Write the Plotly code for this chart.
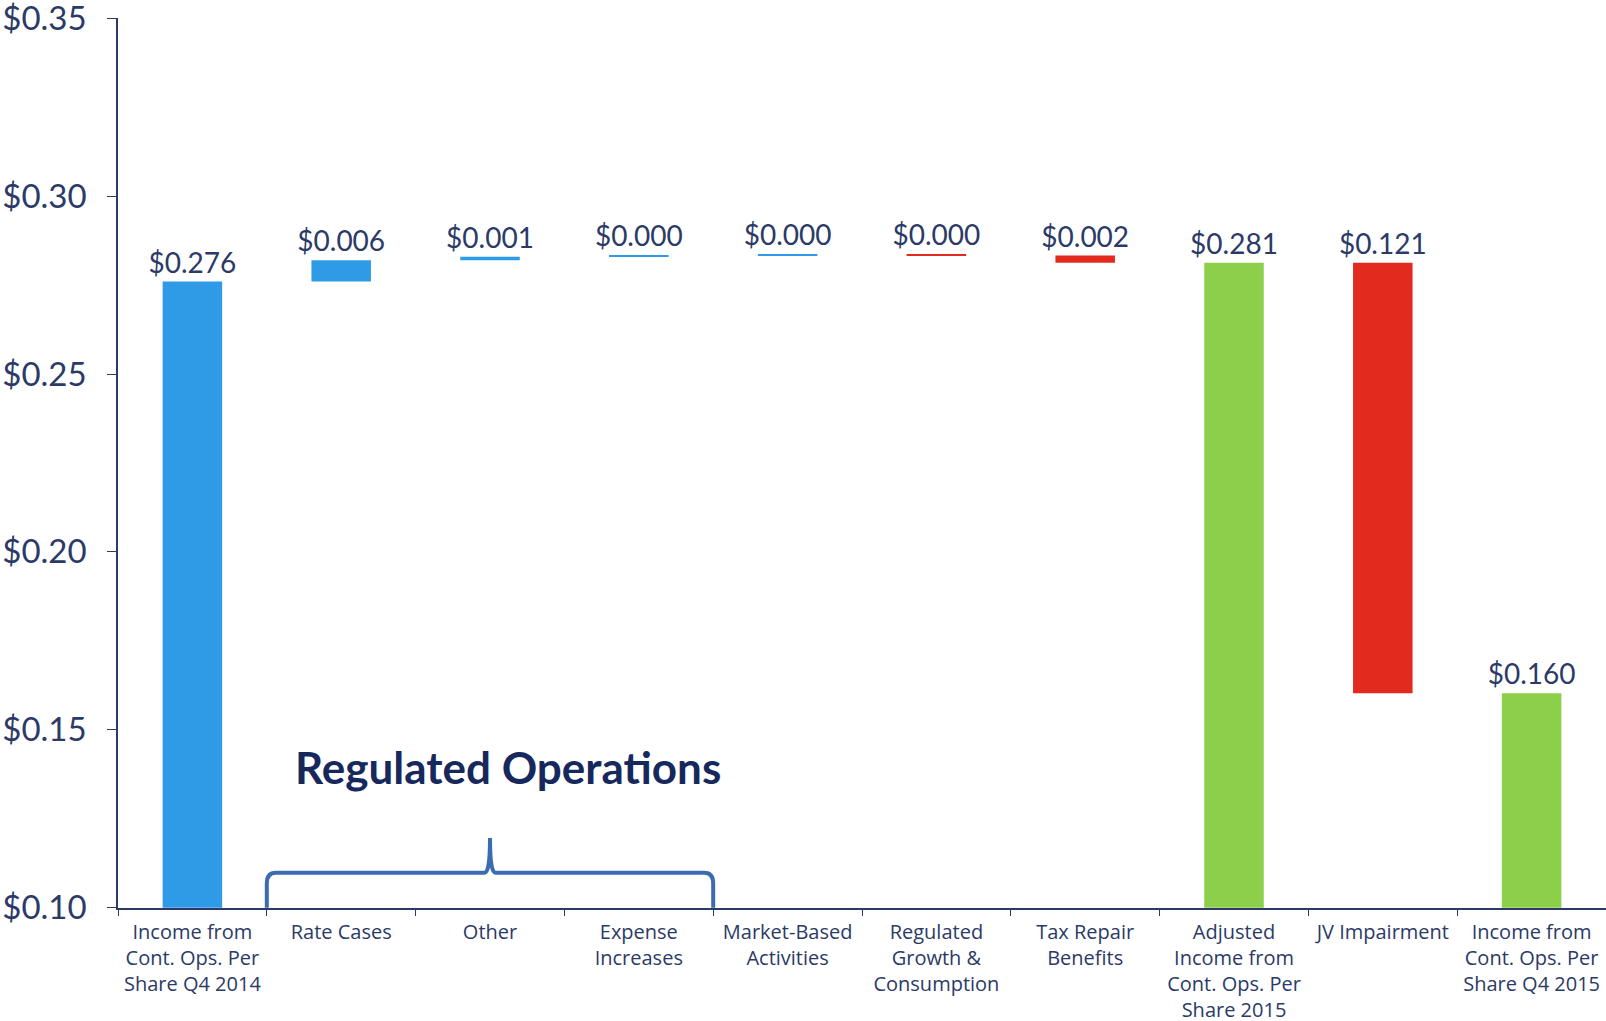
import plotly.graph_objects as go

# Earnings-per-share bridge, Q4 2014 -> Q4 2015
categories = [
    "Income from<br>Cont. Ops. Per<br>Share Q4 2014",
    "Rate Cases",
    "Other",
    "Expense<br>Increases",
    "Market-Based<br>Activities",
    "Regulated<br>Growth &<br>Consumption",
    "Tax Repair<br>Benefits",
    "Adjusted<br>Income from<br>Cont. Ops. Per<br>Share 2015",
    "JV Impairment",
    "Income from<br>Cont. Ops. Per<br>Share Q4 2015",
]
# "start" = opening value, "delta" = change, "total" = running subtotal
measures = ["start", "delta", "delta", "delta", "delta", "delta", "delta", "total", "delta", "total"]
values = [0.276, 0.006, 0.001, 0.0003, 0.0003, -0.0003, -0.002, None, -0.121, None]

y_ticks = [0.10, 0.15, 0.20, 0.25, 0.30, 0.35]
axis_floor = 0.10

BLUE = "#2F9BE6"
RED = "#E32A1E"
GREEN = "#8CCF4A"
NAVY = "#2B3A67"
DARK_NAVY = "#17295C"
BRACE = "#3C6BB0"

# Build bar bottoms / heights from the running total
bases, heights, colors, labels = [], [], [], []
running = 0.0
for m, v in zip(measures, values):
    if m == "start":
        running = v
        bases.append(axis_floor)
        heights.append(v - axis_floor)
        colors.append(BLUE)
        labels.append(f"${v:.3f}")
    elif m == "total":
        bases.append(axis_floor)
        heights.append(running - axis_floor)
        colors.append(GREEN)
        labels.append(f"${running:.3f}")
    else:
        lo = min(running, running + v)
        bases.append(lo)
        heights.append(abs(v))
        colors.append(BLUE if v >= 0 else RED)
        labels.append(f"${abs(v):.3f}")
        running += v

fig = go.Figure(
    go.Bar(
        x=categories,
        y=heights,
        base=bases,
        width=0.4,
        marker=dict(color=colors, line=dict(width=0)),
        text=labels,
        textposition="outside",
        constraintext="none",
        cliponaxis=False,
        textfont=dict(family="Lato", size=28, color=NAVY),
        hoverinfo="skip",
    )
)

# Brace grouping the regulated-operations drivers
first = 1
last = 3
x0 = first - 0.5
x1 = last + 0.5
xm = (x0 + x1) / 2
y_bar = 0.1098
y_tip = 0.1196
rx, ry = 0.06, 0.0030
brace_path = (
    f"M {x0},{axis_floor} L {x0},{y_bar - ry} Q {x0},{y_bar} {x0 + rx},{y_bar} "
    f"L {xm - rx * 0.6},{y_bar} Q {xm},{y_bar} {xm},{y_tip} "
    f"Q {xm},{y_bar} {xm + rx * 0.6},{y_bar} "
    f"L {x1 - rx},{y_bar} Q {x1},{y_bar} {x1},{y_bar - ry} L {x1},{axis_floor}"
)
fig.add_shape(
    type="path",
    path=brace_path,
    xref="x",
    yref="y",
    line=dict(color=BRACE, width=4),
)
fig.add_annotation(
    x=xm + 0.12,
    y=0.1395,
    xref="x",
    yref="y",
    text="<b>Regulated Operations</b>",
    showarrow=False,
    font=dict(family="Lato", size=44, color=DARK_NAVY),
)

fig.update_layout(
    width=1606,
    height=1021,
    margin=dict(l=118, r=0, t=18, b=113),
    paper_bgcolor="white",
    plot_bgcolor="white",
    showlegend=False,
    bargap=0.6,
)
fig.update_xaxes(
    type="category",
    automargin=False,
    tickangle=0,
    showline=True,
    linecolor=NAVY,
    linewidth=1.5,
    showgrid=False,
    ticks="outside",
    tickson="boundaries",
    ticklen=6,
    tickcolor=NAVY,
    tickwidth=1.2,
    ticklabelstandoff=5,
    tickfont=dict(family="Open Sans", size=20, color=NAVY),
    zeroline=False,
)
fig.update_yaxes(
    automargin=False,
    range=[0.0999, 0.3501],
    tickvals=y_ticks,
    ticktext=[f"${t:.2f}" for t in y_ticks],
    ticklabeloverflow="allow",
    showline=True,
    linecolor=NAVY,
    linewidth=1.5,
    showgrid=False,
    zeroline=False,
    ticks="outside",
    ticklen=9,
    tickcolor=NAVY,
    tickwidth=1.2,
    ticklabelstandoff=14,
    tickfont=dict(family="Lato", size=33, color=NAVY),
)

fig.write_html("out.html")
